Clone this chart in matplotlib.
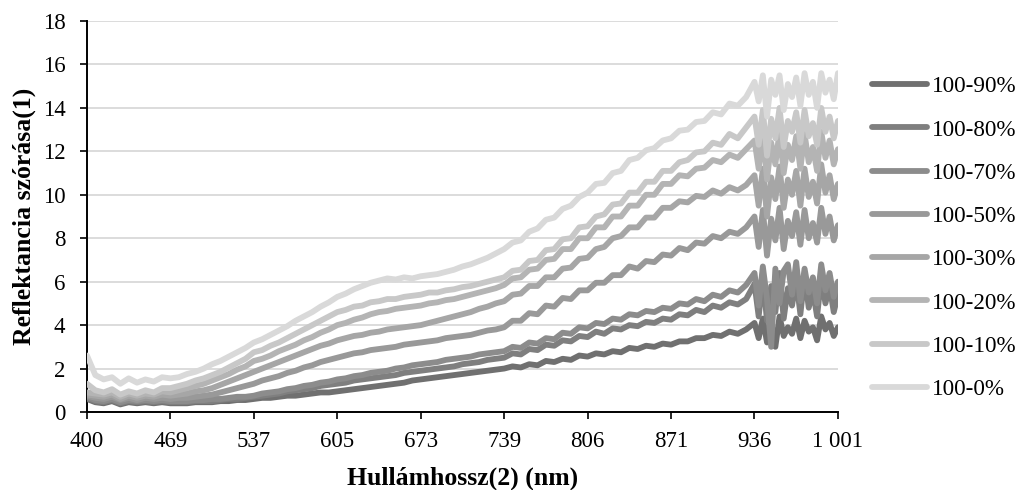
import numpy as np
import matplotlib.pyplot as plt

plt.rcParams['font.family'] = ['Liberation Serif', 'DejaVu Serif']

# x-axis: category ticks (wavelength labels, nm)
tick_labels = ['400', '469', '537', '605', '673', '739', '806', '871', '936', '1 001']

# values: every 0.1 tick step up to 7.9, then every 0.05 (noisy end)
s_90 = [0.6, 0.45, 0.4, 0.5, 0.35, 0.45, 0.4, 0.45, 0.4, 0.45,
        0.4, 0.4, 0.4, 0.45, 0.45, 0.45, 0.5, 0.5, 0.55, 0.55,
        0.6, 0.65, 0.65, 0.7, 0.75, 0.75, 0.8, 0.85, 0.9, 0.9,
        0.95, 1.0, 1.05, 1.1, 1.15, 1.2, 1.25, 1.3, 1.35, 1.45,
        1.5, 1.55, 1.6, 1.65, 1.7, 1.75, 1.8, 1.85, 1.9, 1.95,
        2.0, 2.1, 2.05, 2.2, 2.15, 2.35, 2.3, 2.45, 2.4, 2.6,
        2.55, 2.7, 2.65, 2.8, 2.75, 2.95, 2.9, 3.05, 3.0, 3.15,
        3.1, 3.25, 3.25, 3.4, 3.4, 3.55, 3.5, 3.7, 3.6, 3.8,
        4.1, 3.4, 4.3, 3.2, 4.0, 3.0, 4.4, 3.5, 3.9, 3.6, 4.3,
        3.4, 4.2, 3.7, 3.9, 3.3, 4.4, 3.8, 4.1, 3.5, 3.9]
s_80 = [0.65, 0.5, 0.45, 0.55, 0.4, 0.5, 0.45, 0.5, 0.45, 0.5,
        0.45, 0.45, 0.45, 0.5, 0.5, 0.5, 0.55, 0.6, 0.6, 0.65,
        0.7, 0.75, 0.8, 0.85, 0.95, 1.0, 1.05, 1.1, 1.2, 1.25,
        1.3, 1.35, 1.45, 1.5, 1.55, 1.6, 1.65, 1.7, 1.8, 1.85,
        1.9, 1.95, 2.0, 2.05, 2.1, 2.2, 2.25, 2.3, 2.4, 2.45,
        2.5, 2.7, 2.65, 2.9, 2.85, 3.1, 3.05, 3.3, 3.25, 3.5,
        3.45, 3.7, 3.6, 3.85, 3.8, 4.0, 3.95, 4.15, 4.1, 4.3,
        4.25, 4.5, 4.45, 4.7, 4.6, 4.9, 4.8, 5.05, 4.95, 5.2,
        5.9, 4.4, 6.2, 4.2, 5.8, 4.6, 6.4, 4.3, 5.7, 4.9, 6.1,
        4.5, 6.3, 4.8, 5.6, 4.4, 6.2, 5.0, 5.8, 4.6, 5.4]
s_70 = [0.7, 0.55, 0.5, 0.6, 0.45, 0.55, 0.5, 0.55, 0.5, 0.55,
        0.5, 0.5, 0.5, 0.55, 0.55, 0.6, 0.6, 0.65, 0.7, 0.7,
        0.75, 0.85, 0.9, 0.95, 1.05, 1.1, 1.2, 1.25, 1.35, 1.4,
        1.5, 1.55, 1.65, 1.7, 1.8, 1.85, 1.9, 2.0, 2.05, 2.15,
        2.2, 2.25, 2.3, 2.4, 2.45, 2.5, 2.55, 2.65, 2.7, 2.75,
        2.8, 3.0, 2.95, 3.2, 3.15, 3.4, 3.35, 3.65, 3.6, 3.9,
        3.85, 4.1, 4.05, 4.3, 4.25, 4.5, 4.45, 4.65, 4.6, 4.8,
        4.75, 5.0, 4.95, 5.2, 5.1, 5.4, 5.3, 5.6, 5.5, 5.85,
        6.4, 4.9, 6.7, 5.2, 3.0, 6.6, 5.0, 6.5, 6.8, 5.4, 6.9,
        5.1, 6.6, 5.5, 6.2, 5.0, 6.8, 5.6, 6.4, 5.3, 6.0]
s_50 = [0.75, 0.65, 0.6, 0.7, 0.55, 0.65, 0.55, 0.65, 0.6, 0.65,
        0.6, 0.65, 0.65, 0.7, 0.75, 0.8, 0.9, 1.0, 1.1, 1.2,
        1.3, 1.45, 1.55, 1.65, 1.8, 1.9, 2.05, 2.15, 2.3, 2.4,
        2.5, 2.6, 2.7, 2.75, 2.85, 2.9, 2.95, 3.0, 3.1, 3.15,
        3.2, 3.25, 3.3, 3.4, 3.45, 3.5, 3.55, 3.65, 3.75, 3.8,
        3.9, 4.2, 4.2, 4.55, 4.5, 4.9, 4.85, 5.25, 5.2, 5.6,
        5.6, 5.95, 5.95, 6.3, 6.3, 6.7, 6.6, 6.95, 6.9, 7.25,
        7.2, 7.55, 7.45, 7.8, 7.75, 8.1, 8.0, 8.3, 8.2, 8.5,
        9.0, 7.6, 9.3, 7.2, 8.9, 7.9, 9.4, 7.5, 8.8, 8.1, 9.2,
        7.7, 9.3, 8.0, 8.7, 7.8, 9.4, 8.2, 9.0, 7.9, 8.6]
s_30 = [0.8, 0.75, 0.7, 0.8, 0.6, 0.75, 0.65, 0.75, 0.7, 0.8,
        0.75, 0.8, 0.85, 0.95, 1.0, 1.1, 1.25, 1.4, 1.55, 1.7,
        1.85, 2.0, 2.15, 2.3, 2.45, 2.6, 2.75, 2.9, 3.05, 3.15,
        3.3, 3.4, 3.5, 3.55, 3.65, 3.7, 3.8, 3.85, 3.9, 3.95,
        4.0, 4.1, 4.2, 4.3, 4.4, 4.5, 4.6, 4.75, 4.85, 5.0,
        5.1, 5.4, 5.45, 5.8, 5.8, 6.2, 6.2, 6.6, 6.65, 7.05,
        7.1, 7.5, 7.6, 8.0, 8.1, 8.5, 8.5, 8.95, 8.95, 9.4,
        9.4, 9.7, 9.65, 9.95, 9.9, 10.2, 10.05, 10.35, 10.2, 10.45,
        10.9, 9.5, 11.2, 9.0, 10.8, 9.8, 11.3, 9.4, 10.7, 10.0, 11.1,
        9.5, 11.2, 9.9, 10.6, 9.6, 11.4, 10.1, 10.9, 9.8, 10.5]
s_20 = [0.9, 0.85, 0.8, 0.9, 0.7, 0.85, 0.75, 0.85, 0.8, 0.95,
        0.9, 1.0, 1.1, 1.2, 1.3, 1.45, 1.6, 1.75, 1.95, 2.1,
        2.35, 2.45, 2.6, 2.8, 2.95, 3.1, 3.3, 3.45, 3.65, 3.8,
        4.0, 4.1, 4.25, 4.35, 4.5, 4.6, 4.65, 4.75, 4.8, 4.85,
        4.9, 5.0, 5.05, 5.15, 5.2, 5.3, 5.4, 5.5, 5.6, 5.7,
        5.85, 6.15, 6.2, 6.55, 6.6, 7.0, 7.05, 7.5, 7.5, 8.0,
        8.0, 8.5, 8.5, 9.0, 9.0, 9.5, 9.5, 10.0, 10.0, 10.5,
        10.5, 10.9, 10.85, 11.2, 11.25, 11.6, 11.5, 11.85, 11.7, 12.1,
        12.5, 11.2, 12.8, 10.7, 12.4, 11.4, 12.9, 11.0, 12.3, 11.6, 12.7,
        11.2, 12.8, 11.5, 12.2, 11.1, 12.9, 11.7, 12.5, 11.4, 12.1]
s_10 = [1.3, 1.0, 0.9, 1.05, 0.8, 0.95, 0.85, 1.0, 0.9, 1.1,
        1.1, 1.2, 1.3, 1.45, 1.55, 1.7, 1.85, 2.05, 2.25, 2.45,
        2.75, 2.85, 3.05, 3.2, 3.4, 3.6, 3.8, 4.0, 4.2, 4.4,
        4.6, 4.7, 4.85, 4.9, 5.05, 5.1, 5.2, 5.2, 5.3, 5.35,
        5.4, 5.5, 5.5, 5.6, 5.65, 5.75, 5.8, 5.9, 6.0, 6.1,
        6.2, 6.5, 6.55, 6.95, 7.0, 7.45, 7.5, 7.95, 8.0, 8.5,
        8.55, 9.0, 9.1, 9.55, 9.6, 10.1, 10.1, 10.6, 10.6, 11.1,
        11.1, 11.5, 11.6, 11.95, 12.0, 12.4, 12.3, 12.8, 12.6, 13.1,
        13.6, 12.3, 13.9, 11.8, 13.5, 12.6, 14.0, 12.2, 13.4, 12.9, 13.8,
        12.4, 13.9, 12.7, 13.3, 12.3, 14.0, 12.9, 13.6, 12.6, 13.4]
s_0 = [2.6, 1.7, 1.5, 1.6, 1.3, 1.55, 1.35, 1.5, 1.4, 1.6,
       1.55, 1.6, 1.75, 1.85, 2.0, 2.2, 2.35, 2.55, 2.75, 2.95,
       3.2, 3.35, 3.55, 3.75, 3.95, 4.2, 4.4, 4.6, 4.85, 5.05,
       5.3, 5.45, 5.65, 5.8, 5.95, 6.05, 6.15, 6.1, 6.2, 6.15,
       6.25, 6.3, 6.35, 6.45, 6.55, 6.7, 6.8, 6.95, 7.1, 7.3,
       7.5, 7.8, 7.9, 8.3, 8.45, 8.85, 8.95, 9.35, 9.5, 9.9,
       10.1, 10.5, 10.55, 11.0, 11.1, 11.6, 11.7, 12.05, 12.15, 12.5,
       12.6, 12.95, 13.0, 13.35, 13.4, 13.8, 13.7, 14.2, 14.1, 14.5,
       15.2, 14.3, 15.5, 13.6, 15.3, 14.6, 15.5, 13.9, 15.1, 14.5, 15.4,
       14.1, 15.6, 14.6, 15.2, 14.0, 15.6, 14.7, 15.3, 14.4, 15.6]

series = [s_90, s_80, s_70, s_50, s_30, s_20, s_10, s_0]
labels = ['100-90%', '100-80%', '100-70%', '100-50%', '100-30%', '100-20%', '100-10%', '100-0%']
colors = ['#707070', '#7f7f7f', '#8c8c8c', '#999999', '#a6a6a6', '#b4b4b4', '#c8c8c8', '#d9d9d9']

fig = plt.figure(figsize=(10.22, 4.9), dpi=100)
ax = fig.add_axes([0.0851, 0.1592, 0.7348, 0.7979])

# positions along the category axis (tick units)
x = np.r_[np.linspace(0, 7.9, 80), np.linspace(8, 9, 21)]
for vals, lab, col in zip(series, labels, colors):
    ax.plot(x, vals, color=col, lw=4.2, label=lab, solid_capstyle='round',
            solid_joinstyle='round', zorder=3)

ax.set_xlim(0, 9)
ax.set_ylim(0, 18)
ax.set_xticks(range(10))
ax.set_xticklabels(tick_labels)
ax.set_yticks(range(0, 19, 2))
ax.yaxis.grid(True, color='#d9d9d9', lw=1.3, zorder=0)
ax.set_axisbelow(True)

for side in ['top', 'right']:
    ax.spines[side].set_visible(False)
for side in ['left', 'bottom']:
    ax.spines[side].set_linewidth(1.4)
ax.tick_params(direction='out', length=5, width=1.2, labelsize=16.5)
ax.tick_params(axis='x', pad=9)
ax.tick_params(axis='y', pad=10.5)

ax.set_xlabel('Hullámhossz(2) (nm)', fontsize=18.5, fontweight='bold', labelpad=10)
ax.set_ylabel('Reflektancia szórása(1)', fontsize=18.5, fontweight='bold', labelpad=5)

fig.legend(loc='upper left', bbox_to_anchor=(872 / 1022, 1 - 76 / 490),
           frameon=False, fontsize=16.7, handlelength=2.37, handletextpad=0.22,
           labelspacing=0.95, borderpad=0, borderaxespad=0)

fig.savefig('out.png', dpi=100)
